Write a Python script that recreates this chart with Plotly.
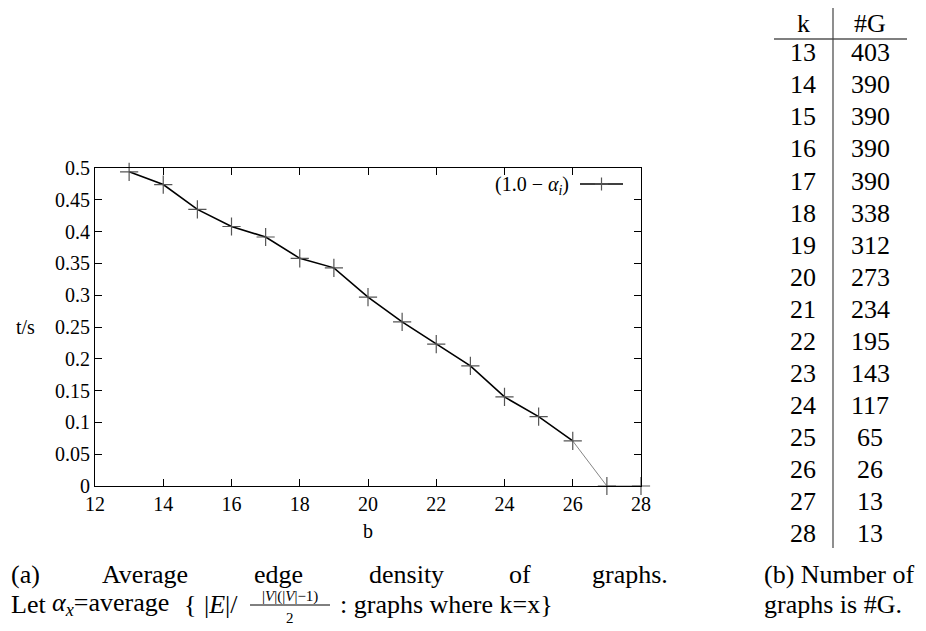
import plotly.graph_objects as go

# ---- data ----
k_values = [13, 14, 15, 16, 17, 18, 19, 20, 21, 22, 23, 24, 25, 26, 27, 28]
density = [0.494, 0.474, 0.435, 0.408, 0.3915, 0.358, 0.343, 0.297, 0.258,
           0.223, 0.189, 0.140, 0.109, 0.0708, 0.0, 0.0]
graph_counts = [403, 390, 390, 390, 390, 338, 312, 273, 234, 195, 143, 117,
                65, 26, 13, 13]
x_ticks = [12, 14, 16, 18, 20, 22, 24, 26, 28]
y_ticks = [0, 0.05, 0.1, 0.15, 0.2, 0.25, 0.3, 0.35, 0.4, 0.45, 0.5]
series_name = "(1.0 \u2212 <i>\u03b1<sub>i</sub></i>)"

# page body has an 8px margin; layout numbers below are screen pixels
OFF = 8
W, H = 926 - OFF, 631 - OFF
SL, SR, ST, SB = 95, 641, 168, 486          # plot box on screen
L, R, T, B = SL - OFF, SR - OFF, ST - OFF, SB - OFF
FONT = "Liberation Serif"


def px(sx):
    return (sx - SL) / (SR - SL)


def py(sy):
    return (SB - sy) / (SB - ST)


def text(sx, sy, s, font, xanchor="center"):
    return dict(x=px(sx), y=py(sy), xref="paper", yref="paper", text=s,
                showarrow=False, xanchor=xanchor, yanchor="middle", font=font)


def hline(sx0, sx1, sy, color="black", width=1.2):
    return dict(type="line", xref="paper", yref="paper", x0=px(sx0), x1=px(sx1),
                y0=py(sy), y1=py(sy), line=dict(color=color, width=width))


def vline(sx, sy0, sy1, color="black", width=1.2):
    return dict(type="line", xref="paper", yref="paper", x0=px(sx), x1=px(sx),
                y0=py(sy0), y1=py(sy1), line=dict(color=color, width=width))


fig = go.Figure()
fig.add_trace(go.Scatter(x=k_values[:14], y=density[:14], mode="lines",
                         line=dict(color="black", width=1.6),
                         showlegend=False, cliponaxis=False))
fig.add_trace(go.Scatter(x=k_values[13:], y=density[13:], mode="lines",
                         line=dict(color="#666666", width=0.8),
                         showlegend=False, cliponaxis=False))
fig.add_trace(go.Scatter(x=k_values, y=density, mode="markers",
                         marker=dict(symbol="cross-thin", size=13,
                                     line=dict(color="#555555", width=1.2)),
                         showlegend=False, cliponaxis=False))

tick_font = dict(family=FONT, size=20, color="black")
tab_font = dict(family=FONT, size=26, color="black")
cap_font = dict(family=FONT, size=26, color="black")
frac_font = dict(family=FONT, size=15, color="black")

annotations = []
shapes = []

# legend
annotations.append(text(571, 185, series_name, tick_font, xanchor="right"))
shapes.append(hline(580, 623, 184, "black", 1.4))
shapes.append(hline(595, 608, 184, "#555555", 1.2))
shapes.append(vline(601.5, 177.5, 190.5, "#555555", 1.2))

# axis titles
annotations.append(text(25, 327, "t/s", tick_font))
annotations.append(text(368, 531, "b", tick_font))

# table
kx, gx = 803, 870
annotations.append(text(kx, 23, "k", tab_font))
annotations.append(text(gx, 23, "#G", tab_font))
for i, (kk, gg) in enumerate(zip(k_values, graph_counts)):
    yy = 53 + i * 32
    annotations.append(text(kx, yy, str(kk), tab_font))
    annotations.append(text(gx, yy, str(gg), tab_font))
shapes.append(hline(774, 907, 39, "black", 1.2))
shapes.append(vline(833, 8, 548, "#444444", 1.2))

# caption (a), justified first line
words = [("(a)", 9), ("Average", 100), ("edge", 252), ("density", 367),
         ("of", 507), ("graphs.", 590)]
for w, x0 in words:
    annotations.append(text(x0, 574, w, cap_font, xanchor="left"))
line2 = [("Let", 9), ("<i>\u03b1<sub>x</sub></i>=average", 50), ("{", 182),
         ("|<i>E</i>|/", 202)]
for w, x0 in line2:
    annotations.append(text(x0, 604, w, cap_font, xanchor="left"))
annotations.append(text(290, 596, "|<i>V</i>|(|<i>V</i>|\u22121)", frac_font))
shapes.append(hline(250, 330, 605, "black", 1))
annotations.append(text(290, 618, "2", frac_font))
annotations.append(text(338, 604, ": graphs where k=x}", cap_font, xanchor="left"))

# caption (b)
annotations.append(text(762, 574, "(b) Number of", cap_font, xanchor="left"))
annotations.append(text(762, 604, "graphs is #G.", cap_font, xanchor="left"))

axis_common = dict(showgrid=False, zeroline=False, showline=True,
                   linecolor="black", linewidth=1.2, mirror="ticks",
                   ticks="inside", ticklen=7, tickcolor="black",
                   tickfont=tick_font)
fig.update_layout(
    width=W, height=H,
    margin=dict(l=L, r=W - R, t=T, b=H - B, pad=0),
    paper_bgcolor="white", plot_bgcolor="white",
    xaxis=dict(range=[12, 28], tickvals=x_ticks,
               ticktext=[str(v) for v in x_ticks], **axis_common),
    yaxis=dict(range=[0, 0.5], tickvals=y_ticks,
               ticktext=[("%g" % v) for v in y_ticks], **axis_common),
    annotations=annotations, shapes=shapes,
)
fig.write_html("out.html")
